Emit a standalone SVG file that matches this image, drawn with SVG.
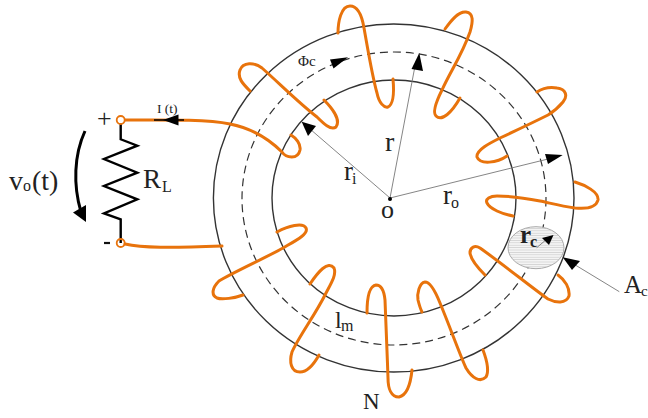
<svg xmlns="http://www.w3.org/2000/svg" width="648" height="418" viewBox="0 0 648 418">
<style>
.ring{fill:none;stroke:#333;stroke-width:1.4}
.wire{fill:none;stroke:#e8730c;stroke-width:3;stroke-linecap:round;stroke-linejoin:round}
.thin{fill:none;stroke:#777;stroke-width:.9}
.head{fill:#000;stroke:none}
text{font-family:"Liberation Serif","Times New Roman",serif;fill:#222}
.sm{font-size:16px}
</style>
<defs>
<pattern id="hatch" width="4" height="2.4" patternUnits="userSpaceOnUse"><rect width="4" height="2.4" fill="#f4f4f4"/><rect width="4" height=".8" fill="#d2d2d2"/></pattern>
</defs>
<rect width="648" height="418" fill="#fff"/>
<g id="core">
<ellipse class="ring" cx="393.7" cy="198" rx="180.3" ry="174"/>
<ellipse class="ring" cx="394" cy="198" rx="122" ry="118"/>
<ellipse cx="394" cy="198.5" rx="152" ry="146.5" fill="none" stroke="#333" stroke-width="1.2" stroke-dasharray="8 5"/>
</g>
<g id="cross-section">
<ellipse cx="536" cy="247.7" rx="28" ry="21" fill="url(#hatch)" stroke="#aaa" stroke-width="1"/>
</g>
<g id="connectors">
<path class="wire" d="M125 120C160 120 205 119 230 124C250 128 268 138 282 152C286 158 298 160 300 150C301 144 296 138 291 135"/>
<path class="wire" d="M250 91C243 84 237 78 240 70C243 62 254 62 262 68C280 84 300 104 317 117C323 123 331 131 336 127C341 120 332 108 324 100"/>
<path class="wire" d="M338 33C338 22 341 6 350 6C358 6 362 16 364 28C368 50 372 75 377 93C379 103 384 108 388 107C394 104 394 90 393 79"/>
<path class="wire" d="M445 29C450 22 458 11 466 12C474 13 473 22 470 32C462 55 450 72 442 90C437 100 432 112 436 116C442 122 452 112 460 98"/>
<path class="wire" d="M537 92C543 88 551 87 557 88C566 89 568 96 563 102C558 108 553 112 548 115C532 123 515 131 500 138C490 143 476 150 477 157C480 165 497 163 507 156"/>
<path class="wire" d="M575 182C585 185 599 192 598 200C596 208 585 209 575 208C560 206 550 203 540 201C525 198 510 196 497 196C490 196 485 199 487 203C490 209 502 214 513 216"/>
<path class="wire" d="M558 275C565 280 570 288 569 296C566 304 556 303 548 299C535 290 500 262 480 248C475 245 470 247 470 253C471 260 478 268 485 275"/>
<path class="wire" d="M483 350C486 358 490 370 486 377C480 383 472 378 466 368C460 355 450 327 440 303C436 293 430 282 425 282C419 283 417 294 418 300C419 304 420 308 422 312"/>
<path class="wire" d="M412 370C411 380 408 395 399 397C391 397 388 388 388 378C387 350 386 320 385 300C384 290 381 285 376 285C369 286 367 300 367 313"/>
<path class="wire" d="M319 355C314 364 308 372 300 372C291 372 289 362 292 352C298 338 315 315 325 295C330 285 337 275 334 268C328 260 318 272 310 284"/>
<path class="wire" d="M243 295C235 298 222 300 217 298C211 295 212 288 219 281C232 273 265 258 283 248C295 241 309 234 306 228C303 222 288 226 277 232"/>
<path class="wire" d="M125 244C142 248 170 248 222 246"/>
<path d="M120.7 124V139.3L137.3 145.7L104 159L137.3 172.7L104 186L137.3 199.3L104 213.3L120.7 219.3V243" fill="none" stroke="#000" stroke-width="2.4"/>
<path d="M154 120H184" stroke="#000" stroke-width="1.5"/>
<path class="head" d="M163 120L178.5 114.5L178.5 125.5Z"/>
<path d="M85 131C74 155 73 185 81 212" fill="none" stroke="#000" stroke-width="3"/>
<path class="head" d="M86 222L73 212.5L86 205Z"/>
<path class="thin" d="M390 198L415 66"/>
<path class="head" d="M419.3 53L411.5 69L423 71Z"/>
<path class="thin" d="M390 198L310 129"/>
<path class="head" d="M301.7 121.7L308 136L316 126Z"/>
<path class="thin" d="M390 198L548 159"/>
<path class="head" d="M562.7 155L545 154L548 164Z"/>
<path class="thin" d="M536.7 247.7L547 239"/>
<path class="head" d="M553.5 235L542 238L549 245Z"/>
<path class="thin" d="M572 263L619.3 291.7"/>
<path class="head" d="M562.7 257.3L572 270L580 261Z"/>
<path class="head" d="M348 57.3L330 59.5L333.5 68.5Z"/>
<circle cx="390" cy="199" r="2" fill="#000"/>
</g>
<g id="terminals">
<circle cx="120.7" cy="120" r="4" fill="#fff" stroke="#e8730c" stroke-width="1.8"/>
<circle cx="120.7" cy="243" r="4" fill="none" stroke="#e8730c" stroke-width="1.8"/>
</g>
<g id="labels">
<text x="97" y="127" font-size="26" style="font-weight:300">+</text>
<path d="M104 243H110" stroke="#111" stroke-width="2.2"/>
<text x="157" y="113" font-size="13.5">I (t)</text>
<text x="143" y="188" font-size="27">R</text><text x="162" y="192" font-size="16">L</text>
<text x="9" y="190" font-size="28">v</text><text x="23" y="191" class="sm">o</text><text x="32" y="190" font-size="28">(t)</text>
<text x="298" y="66" font-size="15">Φc</text>
<text x="385" y="151" font-size="28">r</text>
<text x="344" y="180" font-size="27">r</text><text x="352" y="184" class="sm">i</text>
<text x="443" y="204" font-size="27">r</text><text x="451" y="208" class="sm">o</text>
<text x="381" y="218" font-size="26">o</text>
<text x="520" y="243" font-size="25" font-weight="bold">r</text><text x="530" y="247" font-size="16" font-weight="bold">c</text>
<text x="624" y="293" font-size="25">A</text><text x="641" y="296" font-size="15">c</text>
<text x="335" y="328" font-size="24">l</text><text x="341" y="331" class="sm">m</text>
<text x="363" y="409" font-size="23">N</text>
</g>
</svg>
